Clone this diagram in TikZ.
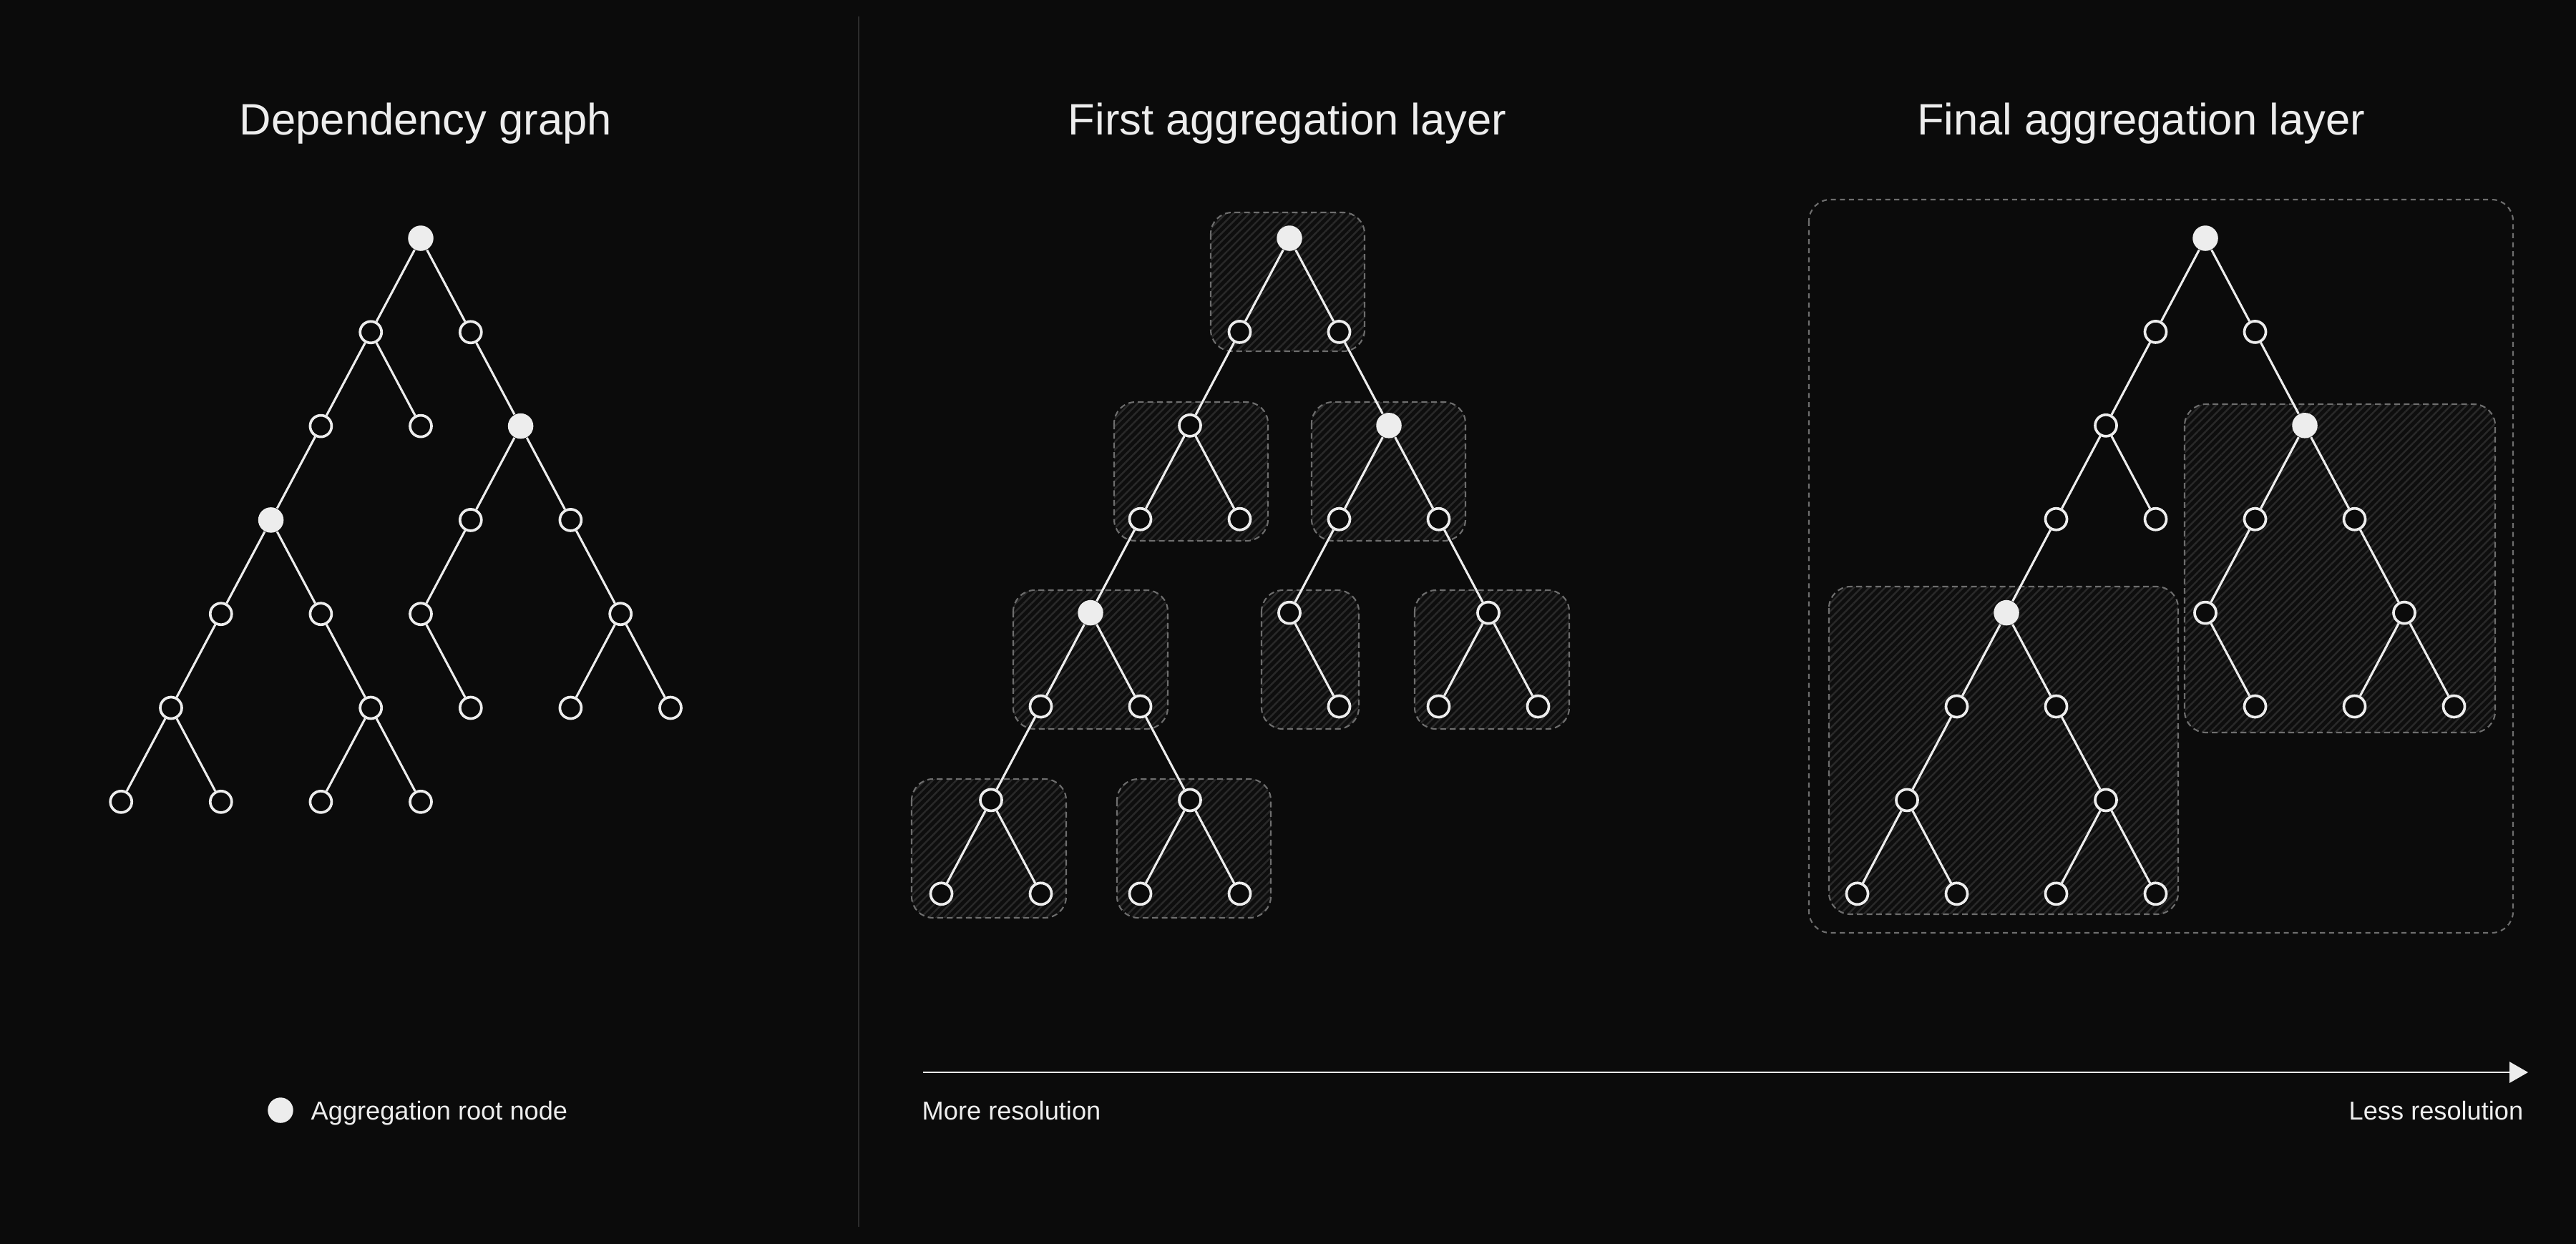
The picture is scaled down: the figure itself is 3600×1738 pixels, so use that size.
\documentclass[tikz,border=0pt]{standalone}
\usepackage{fontspec}
\setmainfont{Liberation Sans}
\usetikzlibrary{arrows.meta,patterns.meta}

\definecolor{bg}{HTML}{0B0B0B}
\definecolor{ink}{HTML}{EDEDED}
\definecolor{dashgray}{HTML}{6E6E6E}
\definecolor{hatchgray}{HTML}{292929}
\definecolor{boxfill}{HTML}{0E0E0E}
\definecolor{rulegray}{HTML}{2C2C2C}

\tikzset{
  plainnode/.style={circle,draw=ink,fill=bg,line width=1.05pt,minimum size=0.30cm,inner sep=0pt},
  rootnode/.style={circle,fill=ink,minimum size=0.355cm,inner sep=0pt},
  link/.style={draw=ink,line width=0.88pt},
  aggbox/.style={draw=dashgray,line width=0.6pt,dash pattern=on 2.3pt off 1.5pt,rounded corners=8.5pt,
    preaction={fill=boxfill},pattern={Lines[angle=45,distance=2.2pt,line width=0.7pt]},pattern color=hatchgray},
  outerbox/.style={draw=dashgray,line width=0.6pt,dash pattern=on 2pt off 1.6pt,rounded corners=8.5pt},
  title/.style={text=ink,inner sep=0pt,anchor=base,font=\fontsize{17.5}{21}\selectfont},
  smalltext/.style={text=ink,inner sep=0pt,font=\fontsize{10.3}{12}\selectfont},
}

\begin{document}
\begin{tikzpicture}[x=0.01cm,y=-0.01cm]
        \useasboundingbox (0,0) rectangle (3600,1738);
        \fill[bg] (-20,-20) rectangle (3620,1758);

        % titles
        \node[title] (deptitle) at (595,188) {Dependency graph};
        \node[title] (firsttitle) at (1799,188) {First aggregation layer};
        \node[title] (finaltitle) at (2992,188) {Final aggregation layer};

        % divider
        \coordinate (divtop) at (1200,23);
        \coordinate (divbot) at (1200,1715);
        \draw[rulegray,line width=0.6pt] (divtop) -- (divbot);

        % aggregation boxes
        \draw[aggbox] (1692,297) rectangle (1907,491);
        \draw[aggbox] (1557,562) rectangle (1772,756);
        \draw[aggbox] (1833,562) rectangle (2048,756);
        \draw[aggbox] (1416,825) rectangle (1632,1019);
        \draw[aggbox] (1763,825) rectangle (1899,1019);
        \draw[aggbox] (1977,825) rectangle (2193,1019);
        \draw[aggbox] (1274,1089) rectangle (1490,1283);
        \draw[aggbox] (1561,1089) rectangle (1776,1283);
        \draw[outerbox] (2528,279) rectangle (3512,1304);
        \draw[aggbox] (3053,565) rectangle (3487,1024);
        \draw[aggbox] (2556,820) rectangle (3044,1278);

        % dependency graph
        \foreach \nm/\col/\lev/\sty in {r/0/0/rootnode, a/-1/1/plainnode, b/1/1/plainnode,
            c/-2/2/plainnode, d/0/2/plainnode, e/2/2/rootnode, f/-3/3/rootnode, g/1/3/plainnode, h/3/3/plainnode,
            i/-4/4/plainnode, j/-2/4/plainnode, k/0/4/plainnode, l/4/4/plainnode,
            m/-5/5/plainnode, n/-1/5/plainnode, o/1/5/plainnode, p/3/5/plainnode, q/5/5/plainnode,
            s/-6/6/plainnode, t/-4/6/plainnode, u/-2/6/plainnode, v/0/6/plainnode}
          \node[\sty] (d\nm) at ({588+\col*69.8},{333+\lev*131.3}) {};
        \foreach \p/\q in {r/a, r/b, a/c, a/d, b/e, c/f, e/g, e/h, f/i, f/j, g/k, h/l,
            i/m, j/n, k/o, l/p, l/q, m/s, m/t, n/u, n/v}
          \draw[link] (d\p) -- (d\q);

        % aggregated trees
        \foreach \tr/\rx in {m/1802, f/3082} {
          \foreach \nm/\col/\lev/\sty in {r/0/0/rootnode, a/-1/1/plainnode, b/1/1/plainnode,
              c/-2/2/plainnode, d/2/2/rootnode, e/-3/3/plainnode, g/-1/3/plainnode, h/1/3/plainnode, i/3/3/plainnode,
              j/-4/4/rootnode, k/0/4/plainnode, l/4/4/plainnode,
              m/-5/5/plainnode, n/-3/5/plainnode, o/1/5/plainnode, p/3/5/plainnode, q/5/5/plainnode,
              s/-6/6/plainnode, t/-2/6/plainnode,
              u/-7/7/plainnode, v/-5/7/plainnode, w/-3/7/plainnode, x/-1/7/plainnode}
            \node[\sty] (\tr\nm) at ({\rx+\col*69.5},{333+\lev*130.9}) {};
          \foreach \p/\q in {r/a, r/b, a/c, b/d, c/e, c/g, d/h, d/i, e/j, h/k, i/l,
              j/m, j/n, k/o, l/p, l/q, m/s, n/t, s/u, s/v, t/w, t/x}
            \draw[link] (\tr\p) -- (\tr\q);
        }

        % legend
        \node[rootnode] (keydot) at (392,1552) {};
        \node[smalltext,anchor=base west] (keytext) at (434,1565) {Aggregation root node};

        % resolution axis
        \coordinate (axislo) at (1290,1499);
        \coordinate (axishi) at (3533,1499);
        \draw[ink,line width=0.75pt,-{Triangle[length=7.4pt,width=8.3pt]}] (axislo) -- (axishi);
        \node[smalltext,anchor=base west] (morelabel) at (1288,1565) {More resolution};
        \node[smalltext,anchor=base east] (lesslabel) at (3527,1565) {Less resolution};
\end{tikzpicture}
\end{document}
